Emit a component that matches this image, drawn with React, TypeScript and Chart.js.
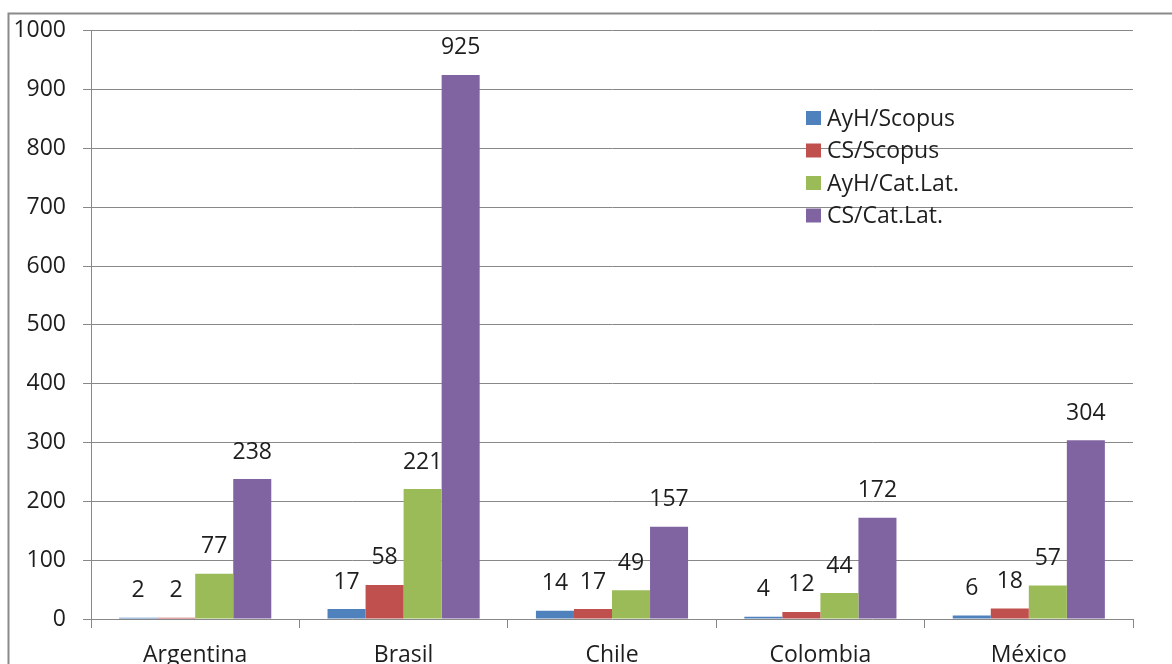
import React, { useEffect, useRef } from "react";
import { Chart, registerables } from "chart.js";

Chart.register(...registerables);

const categories = ["Argentina", "Brasil", "Chile", "Colombia", "México"];
const seriesNames = ["AyH/Scopus", "CS/Scopus", "AyH/Cat.Lat.", "CS/Cat.Lat."];
const ayhScopus = [2, 17, 14, 4, 6];
const csScopus = [2, 58, 17, 12, 18];
const ayhCatLat = [77, 221, 49, 44, 57];
const csCatLat = [238, 925, 157, 172, 304];
const seriesColors = ["#4F81BD", "#C0504D", "#9BBB59", "#8064A2"];
const yMin = 0;
const yMax = 1000;
const yStep = 100;

const FONT = "'Open Sans', 'Liberation Sans', sans-serif";
const TEXT = "#1e1e1e";
const GRID = "#888888";

const borderPlugin = {
  id: "outerBorder",
  beforeDraw(chart: any) {
    const ctx = chart.ctx;
    ctx.save();
    ctx.strokeStyle = "#8a8a8a";
    ctx.lineWidth = 2;
    ctx.beginPath();
    ctx.moveTo(8.5, chart.height);
    ctx.lineTo(8.5, 13.5);
    ctx.lineTo(chart.width, 13.5);
    ctx.stroke();
    ctx.restore();
  },
};

const labelsPlugin = {
  id: "valueLabels",
  afterDatasetsDraw(chart: any) {
    const ctx = chart.ctx;
    ctx.save();
    ctx.font = `23px ${FONT}`;
    ctx.fillStyle = TEXT;
    ctx.textAlign = "center";
    ctx.textBaseline = "middle";
    chart.data.datasets.forEach((ds: any, i: number) => {
      const meta = chart.getDatasetMeta(i);
      meta.data.forEach((el: any, j: number) => {
        ctx.fillText(String(ds.data[j]), el.x, el.y - 27);
      });
    });
    ctx.restore();
  },
};

const legendPlugin = {
  id: "insideLegend",
  afterDraw(chart: any) {
    const ctx = chart.ctx;
    ctx.save();
    ctx.font = `23px ${FONT}`;
    ctx.textAlign = "left";
    ctx.textBaseline = "middle";
    chart.data.datasets.forEach((ds: any, i: number) => {
      const cy = 118 + i * 32.5;
      ctx.fillStyle = ds.backgroundColor;
      ctx.fillRect(806, cy - 7, 15, 14);
      ctx.fillStyle = TEXT;
      ctx.fillText(ds.label, 827, cy + 1);
    });
    ctx.restore();
  },
};

export default function App() {
  const ref = useRef<HTMLCanvasElement>(null);
  useEffect(() => {
    if (!ref.current) return;
    const values = [ayhScopus, csScopus, ayhCatLat, csCatLat];
    const chart = new Chart(ref.current, {
      type: "bar",
      data: {
        labels: categories,
        datasets: seriesNames.map((name, i) => ({
          label: name,
          data: values[i],
          backgroundColor: seriesColors[i],
          borderWidth: 0,
          categoryPercentage: 0.73,
          barPercentage: 1,
        })),
      },
      options: {
        responsive: false,
        animation: false,
        devicePixelRatio: 1,
        layout: { padding: { left: 10, top: 29, right: 39, bottom: 0 } },
        plugins: { legend: { display: false }, tooltip: { enabled: false } },
        scales: {
          x: {
            grid: {
              display: true,
              drawOnChartArea: false,
              drawTicks: true,
              tickLength: 9,
              color: GRID,
              offset: true,
            },
            border: { display: false },
            ticks: { font: { family: FONT, size: 23 }, color: TEXT, padding: 14 },
            afterFit: (s: any) => {
              s.height = 45;
            },
          },
          y: {
            min: yMin,
            max: yMax,
            ticks: {
              stepSize: yStep,
              font: { family: FONT, size: 23 },
              color: TEXT,
              padding: 17,
              callback: (v: any) => String(v),
            },
            grid: { color: GRID, tickLength: 8 },
            border: { display: true, color: GRID },
            afterFit: (s: any) => {
              s.width = 81;
            },
          },
        },
      },
      plugins: [borderPlugin, labelsPlugin, legendPlugin],
    });
    return () => chart.destroy();
  }, []);
  return (
    <div style={{ position: "absolute", left: 0, top: 0, width: 1172, height: 664, background: "#fff" }}>
      <canvas ref={ref} width={1172} height={664} />
    </div>
  );
}
